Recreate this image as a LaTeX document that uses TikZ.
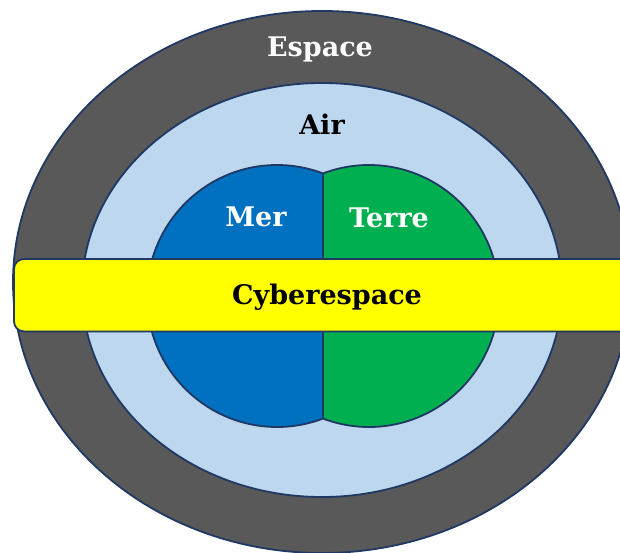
\documentclass[tikz,border=0pt]{standalone}
\usepackage{fontspec}
\setmainfont{DejaVu Serif}

\definecolor{espacegray}{HTML}{595959}
\definecolor{airblue}{HTML}{BDD7EE}
\definecolor{merblue}{HTML}{0070C0}
\definecolor{terregreen}{HTML}{00B050}
\definecolor{cyberyellow}{HTML}{FFFF00}
\definecolor{edgenavy}{HTML}{1F3864}

\begin{document}
\begin{tikzpicture}[x=1pt, y=-1pt,
	zone/.style={draw=edgenavy, line width=1.8pt},
	zonename/.style={font=\fontsize{27}{30}\selectfont\bfseries, anchor=base, inner sep=0pt},
	cyberbox/.style={rectangle, rounded corners=10pt, draw=edgenavy, fill=cyberyellow, line width=1.8pt, minimum width=626pt, minimum height=72.5pt, text height=18.2pt, text depth=0pt, font=\fontsize{27}{30}\selectfont\bfseries},
	]
	\useasboundingbox (0, 0) rectangle (620, 553);
	
	\filldraw[zone, fill=espacegray] (322, 282) ellipse [x radius=309pt, y radius=271pt];
	\filldraw[zone, fill=airblue] (322, 290) ellipse [x radius=240pt, y radius=207pt];
	
	\begin{scope}
		\clip (0, 0) rectangle (323, 553);
		\filldraw[zone, fill=merblue] (277, 296) ellipse [x radius=130pt, y radius=131pt];
	\end{scope}
	\begin{scope}
		\clip (323, 0) rectangle (620, 553);
		\filldraw[zone, fill=terregreen] (369, 296) ellipse [x radius=130pt, y radius=131pt];
	\end{scope}
	\draw[zone] (323, 173.5) -- (323, 418.5);
	
	\node[zonename, text=white] at (320, 56.7) (espace) {Espace};
	\node[zonename, text=black] at (322, 134.3) (air) {Air};
	\node[zonename, text=white] at (256, 226.7) (mer) {Mer};
	\node[zonename, text=white] at (389, 227.3) (terre) {Terre};
	
	\node[cyberbox] at (327, 295.2) (cyber) {Cyberespace};
\end{tikzpicture}
\end{document}
